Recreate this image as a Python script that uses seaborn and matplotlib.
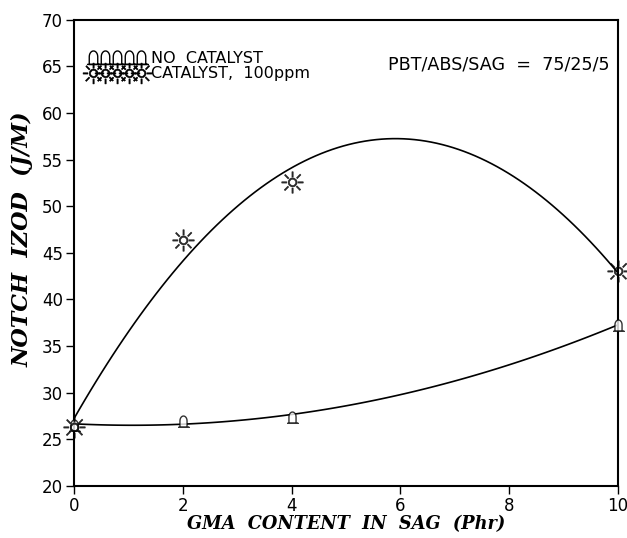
import numpy as np
import pandas as pd
import seaborn as sns
import matplotlib.pyplot as plt
from matplotlib.path import Path
from matplotlib.lines import Line2D

# GMA content (phr) and notched izod (J/M)
gma = [0, 2, 4, 10]
izod_no_cat = [26.5, 27.0, 27.4, 37.3]
izod_cat = [26.3, 46.4, 52.6, 43.0]

x_ticks = [0, 2, 4, 6, 8, 10]
y_ticks = [20, 25, 30, 35, 40, 45, 50, 55, 60, 65, 70]

df = pd.DataFrame({"gma": gma, "no_cat": izod_no_cat, "cat": izod_cat})

# bell shaped marker used for the "no catalyst" points
t = np.linspace(0, np.pi, 12)
dome = [(0.55 * np.cos(a), 0.1 + 0.75 * np.sin(a)) for a in t]
verts = [(0.55, -0.9)] + dome + [(-0.55, -0.9), (0.85, -0.9), (-0.85, -0.9)]
codes = [Path.MOVETO] + [Path.LINETO] * (len(verts) - 1)
bell = Path(verts, codes)
sun = "$\u263C$"

sns.set_style("ticks")
plt.rcParams["font.family"] = ["DejaVu Sans"]
plt.rcParams["text.color"] = "black"

fig = plt.figure(figsize=(6.27, 5.38), dpi=100)
ax = fig.add_axes([0.118, 0.097, 0.8676, 0.8660])

sns.regplot(data=df, x="gma", y="no_cat", order=2, ci=None, ax=ax, marker=bell,
            scatter_kws={"s": 70, "facecolors": "white", "edgecolors": "black", "linewidths": 1.0,
                         "zorder": 3, "clip_on": False},
            line_kws={"color": "black", "lw": 1.2})
sns.regplot(data=df, x="gma", y="cat", order=2, ci=None, ax=ax, marker=sun,
            scatter_kws={"s": 240, "color": "black", "linewidths": 0.4, "zorder": 3, "clip_on": False},
            line_kws={"color": "black", "lw": 1.2})

ax.set_xlim(0, 10)
ax.set_ylim(20, 70)
ax.set_xticks(x_ticks)
ax.set_yticks(y_ticks)
ax.tick_params(direction="out", length=6, width=1.0, labelsize=12, colors="black", pad=2)
for s in ax.spines.values():
    s.set_visible(True)
    s.set_linewidth(1.5)
    s.set_color("black")

lab_font = dict(family="DejaVu Serif", style="italic", weight="bold", color="black")
ax.set_xlabel("GMA  CONTENT  IN  SAG  (Phr)", labelpad=0, size=12.8, **lab_font)
ax.set_ylabel("NOTCH  IZOD  (J/M)", size=16, **lab_font)
ax.yaxis.set_label_coords(-0.074, 0.53)

handles = [
    Line2D([], [], ls="none", marker=bell, markersize=10, mfc="white", mec="black", mew=1.0),
    Line2D([], [], ls="none", marker=sun, markersize=15, color="black", mew=0.4),
]
ax.legend(handles, ["NO  CATALYST", "CATALYST,  100ppm"], loc="upper left",
          bbox_to_anchor=(0.0, 0.965), numpoints=5, handlelength=3.6, handletextpad=0.35,
          labelspacing=0.05, borderaxespad=0.5, frameon=False, fontsize=11.5)

ax.text(0.985, 65.2, "PBT/ABS/SAG  =  75/25/5", transform=ax.get_yaxis_transform(),
        ha="right", va="center", fontsize=12.6)

fig.savefig("out.png", dpi=100)
